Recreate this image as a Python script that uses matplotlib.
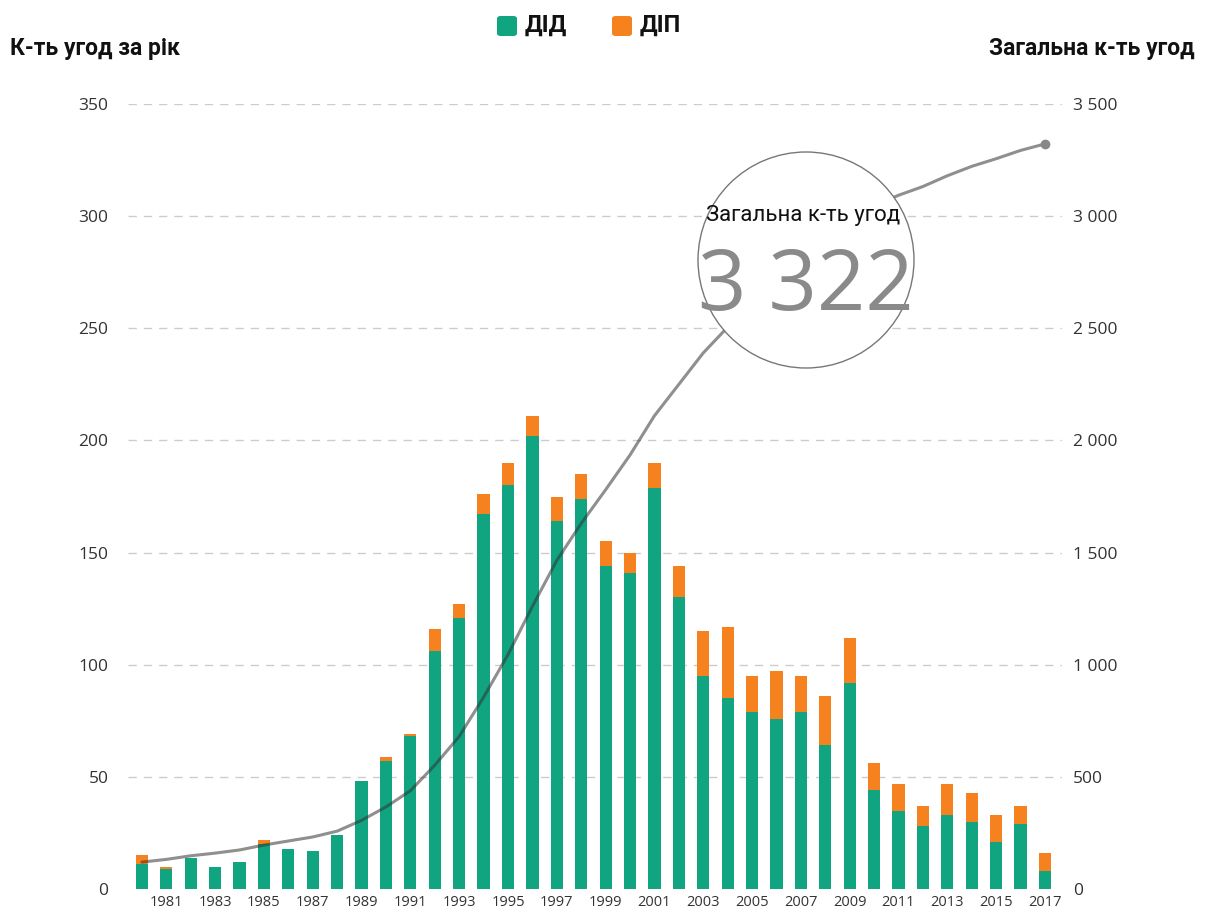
import matplotlib
matplotlib.use("Agg")
import matplotlib.pyplot as plt
from matplotlib.patches import Circle, FancyBboxPatch
from matplotlib.ticker import FuncFormatter

years = list(range(1980, 2018))
did = [11, 9, 14, 10, 12, 20, 18, 17, 24, 48, 57, 68, 106, 121, 167, 180, 202, 164, 174, 144,
       141, 179, 130, 95, 85, 79, 76, 79, 64, 92, 44, 35, 28, 33, 30, 21, 29, 8]
dip = [4, 1, 0, 0, 0, 2, 0, 0, 0, 0, 2, 1, 10, 6, 9, 10, 9, 11, 11, 11,
       9, 11, 14, 20, 32, 16, 21, 16, 22, 20, 12, 12, 9, 14, 13, 12, 8, 8]
cumulative = [120, 132, 148, 160, 174, 196, 214, 232, 258, 306, 366, 438, 552, 680, 855, 1045,
              1260, 1465, 1630, 1780, 1935, 2110, 2250, 2390, 2505, 2600, 2697, 2792, 2878, 2990,
              3046, 3093, 3132, 3180, 3222, 3256, 3293, 3322]
left_ticks = [0, 50, 100, 150, 200, 250, 300, 350]
right_ticks = [0, 500, 1000, 1500, 2000, 2500, 3000, 3500]
year_labels = list(range(1981, 2018, 2))
total_label = "3 322"

GREEN = "#10a480"
ORANGE = "#f5821f"
COND = dict(family=["Roboto", "DejaVu Sans"])

plt.rcParams["font.family"] = ["Open Sans", "DejaVu Sans"]

fig = plt.figure(figsize=(12.10, 9.13), dpi=100)
ax = fig.add_axes([128/1210, (913-889)/913, (1062-128)/1210, (889-104)/913])
ax.set_xlim(1979.43, 2017.7)
ax.set_ylim(0, 350)

ax.bar(years, did, width=0.5, color=GREEN, zorder=2)
ax.bar(years, dip, width=0.5, bottom=did, color=ORANGE, zorder=2)

for t in left_ticks[1:]:
    ax.axhline(t, color="#cccccc", lw=1.0, ls=(0, (6, 5)), zorder=1)

for s in ax.spines.values():
    s.set_visible(False)
ax.set_yticks(left_ticks)
ax.tick_params(axis="y", length=0, pad=14, labelsize=12.5, labelcolor="#333333")
ax.set_xticks(year_labels)
ax.tick_params(axis="x", length=0, pad=4, labelsize=10.5, labelcolor="#333333")

ax2 = ax.twinx()
ax2.set_ylim(0, 3500)
ax2.set_yticks(right_ticks)
ax2.yaxis.set_major_formatter(FuncFormatter(lambda v, p: f"{int(v):,}".replace(",", " ")))
ax2.tick_params(axis="y", length=0, pad=8, labelsize=12.5, labelcolor="#333333")
for s in ax2.spines.values():
    s.set_visible(False)
ax2.plot(years, cumulative, color="#333333", alpha=0.55, lw=2.2, zorder=3,
         solid_capstyle="round")
ax2.plot(years[-1:], cumulative[-1:], "o", color="#888888", ms=6, zorder=4)

# Highlight circle
circ = Circle((8.06, 9.13 - 2.60), 1.08, transform=fig.dpi_scale_trans,
              facecolor="white", edgecolor="#777777", lw=1.0, zorder=5)
fig.add_artist(circ)
fig.text(803/1210, 1 - 216/913, "Загальна к-ть угод", ha="center", va="center",
         fontsize=16, color="#111111", zorder=6, **COND)
fig.text(806/1210, 1 - 288/913, total_label, ha="center", va="center",
         fontsize=61, color="#8a8a8a", fontweight="normal", zorder=6,
         family="Open Sans")

# Axis titles
fig.text(10/1210, 1 - 48/913, "К-ть угод за рік", ha="left", va="center",
         fontsize=16.5, fontweight="bold", color="#111111", **COND)
fig.text(1195/1210, 1 - 48/913, "Загальна к-ть угод", ha="right", va="center",
         fontsize=16.5, fontweight="bold", color="#111111", **COND)

# Legend
for x0, col, lab in [(497, GREEN, "ДІД"), (612, ORANGE, "ДІП")]:
    sq = FancyBboxPatch((x0/1210, 1 - 36/913), 20/1210, 20/913,
                        boxstyle="round,pad=0,rounding_size=0.003",
                        transform=fig.transFigure, facecolor=col, edgecolor="none")
    fig.add_artist(sq)
    fig.text((x0 + 28)/1210, 1 - 25/913, lab, ha="left", va="center",
             fontsize=17, fontweight="bold", color="#111111", **COND)

fig.savefig("out.png", dpi=100, facecolor="white")
